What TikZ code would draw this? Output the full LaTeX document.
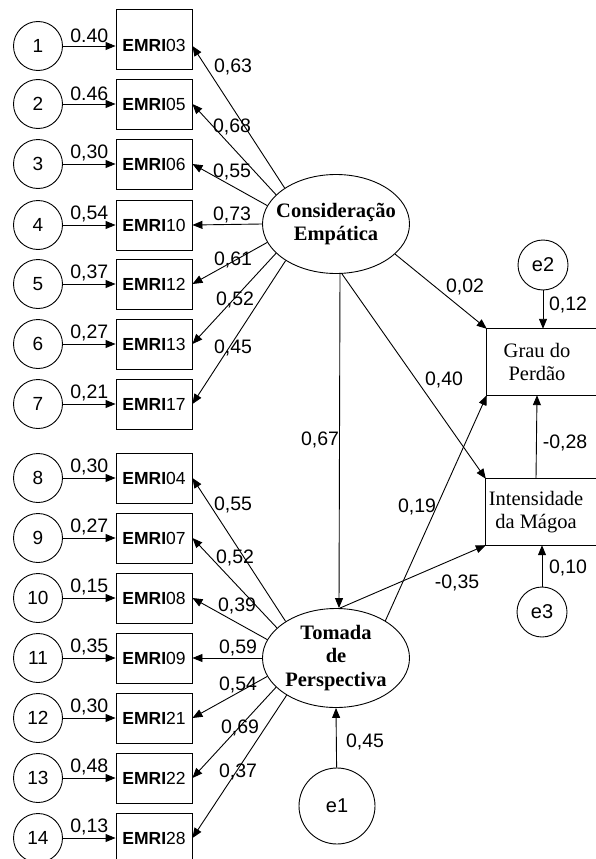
\documentclass[tikz,border=0pt]{standalone}
\usepackage{fontspec}
\setmainfont{Liberation Serif}
\setsansfont{Liberation Sans}
\usetikzlibrary{shapes.geometric,arrows.meta}

\tikzset{
  seta/.style={-{Triangle[length=10pt,width=8pt]}, line width=0.9pt},
  erro/.style={draw, circle, line width=0.9pt, minimum size=49pt, inner sep=0pt, font=\sffamily\fontsize{19}{21}\selectfont},
  indic/.style={draw, rectangle, line width=0.9pt, minimum width=76pt, minimum height=50pt, inner sep=0pt, font=\fontsize{17.5}{20}\selectfont\sffamily},
  tallbox/.style={indic, minimum height=0pt, text height=43pt, text depth=17pt, anchor=base, yshift=-6pt},
  latente/.style={draw, ellipse, line width=0.9pt, minimum width=147pt, minimum height=99pt, inner xsep=-12pt, inner ysep=0pt, align=center, font=\fontsize{20.5}{23.5}\selectfont\bfseries},
  depend/.style={minimum width=100pt, minimum height=66pt, inner sep=0pt, align=center, font=\fontsize{20.5}{23}\selectfont},
  coef/.style={font=\sffamily\fontsize{19.5}{21}\selectfont, inner sep=0pt},
}

\begin{document}
\begin{tikzpicture}[x=1pt,y=-1pt]
        \useasboundingbox (0,0) rectangle (596,859);
        % fatores
        \node[latente] (cons) at (336,224) {Consideração\\Empática};
        \node[latente] (tom) at (336,658) {Tomada\\de\\Perspectiva};
        % variaveis dependentes
        \node[depend] (grau) at (537,362) {Grau do\\Perdão};
        \node[depend] (mag) at (536,512) {Intensidade\\da Mágoa};
        \draw[line width=0.9pt] (grau.north west) rectangle ([xshift=30pt]grau.south east);
        \draw[line width=0.9pt] (mag.north west) rectangle ([xshift=30pt]mag.south east);
        % erros
        \node[erro, minimum size=50pt, font=\sffamily\fontsize{20}{22}\selectfont] (e2) at (543,265) {e2};
        \node[erro, minimum size=50pt, font=\sffamily\fontsize{20}{22}\selectfont] (e3) at (542,612) {e3};
        \node[erro, minimum size=76pt, font=\sffamily\fontsize{20}{22}\selectfont] (e1) at (337,806) {e1};
        % itens EMRI
        \foreach \i/\y/\cod/\err/\f/\ang/\load/\lx/\ly/\st in {
          1/46/03/{0.40}/cons/145/{0,63}/233/67/tallbox,
          2/104/05/{0.46}/cons/154/{0,68}/232/127/indic,
          3/164/06/{0,30}/cons/165/{0,55}/232/172/indic,
          4/225/10/{0,54}/cons/180/{0,73}/232/215/indic,
          5/284/12/{0,37}/cons/195/{0,61}/233/260/indic,
          6/344/13/{0,27}/cons/206/{0,52}/235/300/indic,
          7/404/17/{0,21}/cons/216/{0,45}/233/348/indic,
          8/478/04/{0,30}/tom/144/{0,55}/233/505/indic,
          9/538/07/{0,27}/tom/153/{0,52}/235/558/indic,
          10/598/08/{0,15}/tom/165/{0,39}/237/606/indic,
          11/658/09/{0,35}/tom/180/{0,59}/238/648/indic,
          12/718/21/{0,30}/tom/195/{0,54}/238/685/indic,
          13/778/22/{0,48}/tom/206/{0,69}/240/728/indic,
          14/838/28/{0,13}/tom/217/{0,37}/238/772/indic}{
          \node[erro] (d\i) at (38,\y) {\i};
          \node[\st] (v\i) at (154,\y) {\textbf{EMRI}\cod};
          \draw[seta] (d\i) -- (d\i -| v\i.west) node[coef, midway, above=3pt] {\err};
          \draw[seta] (\f.\ang) -- (d\i -| v\i.east);
          \node[coef] (c\i) at (\lx,\ly) {\load};
        }
        % caminhos estruturais
        \draw[seta] (cons.333) -- (grau.north west);
        \draw[seta] ([xshift=6pt]cons.south) -- (mag.north west);
        \draw[seta] ([xshift=4pt]cons.south) -- ([xshift=3pt]tom.north);
        \draw[seta] ([xshift=4pt]tom.north) -- (mag.south west);
        \draw[seta] (tom.37) -- (grau.south west);
        \draw[seta] (mag.north) -- (grau.south);
        \draw[seta] (e2) -- (e2 |- grau.north);
        \draw[seta] (e3) -- (e3 |- mag.south);
        \draw[seta] (e1) -- (tom.south);
        \node[coef] (k1) at (465,287) {0,02};
        \node[coef] (k2) at (444,380) {0,40};
        \node[coef] (k3) at (320,440) {0,67};
        \node[coef] (k4) at (417,507) {0,19};
        \node[coef] (k5) at (457,583) {-0,35};
        \node[coef] (k6) at (565,443) {-0,28};
        \node[coef] (k7) at (568,305) {0,12};
        \node[coef] (k8) at (568,568) {0,10};
        \node[coef] (k9) at (365,742) {0,45};
\end{tikzpicture}
\end{document}
